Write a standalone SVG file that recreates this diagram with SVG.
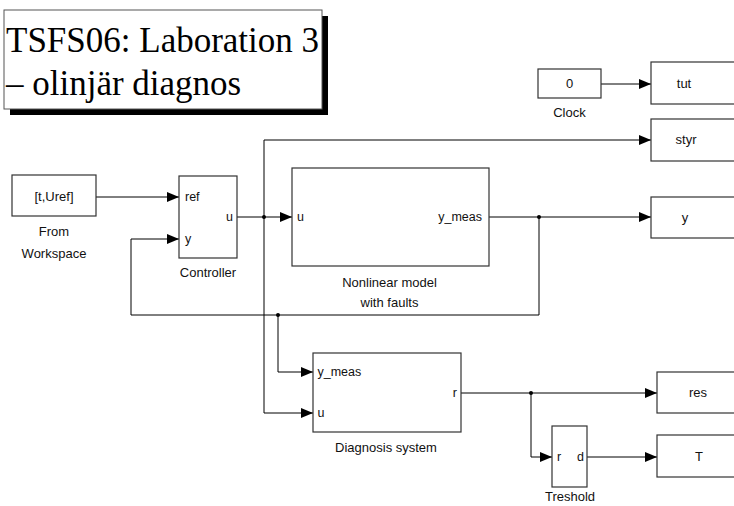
<svg xmlns="http://www.w3.org/2000/svg" width="734" height="506" viewBox="0 0 734 506">
<defs>
<marker id="arr" markerUnits="userSpaceOnUse" markerWidth="12" markerHeight="10" refX="12" refY="5" orient="auto">
<path d="M0,0 L12,5 L0,10 z" fill="#000"/>
</marker>
<style>
.blk{fill:#fff;stroke:#333;stroke-width:1.2}
.t{font-family:"Liberation Sans",Arial,sans-serif;font-size:13px;fill:#111}
.p{font-family:"Liberation Sans",Arial,sans-serif;font-size:12.5px;fill:#111}
.c{text-anchor:middle}
.e{text-anchor:end}
.w{fill:none;stroke:#000;stroke-width:1}
.dot{fill:#000}
.ttl{font-family:"Liberation Serif","Times New Roman",serif;font-size:35px;fill:#000}
</style>
</defs>
<rect width="734" height="506" fill="#fff"/>
<g id="title">
<rect x="10" y="16" width="318" height="99" fill="#000"/>
<rect x="4" y="10" width="318" height="99" fill="#fff" stroke="#555" stroke-width="1"/>
<text class="ttl" x="6" y="52">TSFS06: Laboration 3</text>
<text class="ttl" x="6" y="95">– olinjär diagnos</text>
</g>
<g id="connectors">
<path class="w" d="M96,197 H179" marker-end="url(#arr)"/>
<path class="w" d="M237,217 H292" marker-end="url(#arr)"/>
<path class="w" d="M264,217 V140 H651" marker-end="url(#arr)"/>
<path class="w" d="M264,217 V413 H313" marker-end="url(#arr)"/>
<path class="w" d="M489,217 H651" marker-end="url(#arr)"/>
<path class="w" d="M539,217 V315 H131 V239 H179" marker-end="url(#arr)"/>
<path class="w" d="M278,315 V372 H313" marker-end="url(#arr)"/>
<path class="w" d="M601,84 H651" marker-end="url(#arr)"/>
<path class="w" d="M461,393 H657" marker-end="url(#arr)"/>
<path class="w" d="M531,393 V457 H552" marker-end="url(#arr)"/>
<path class="w" d="M587,457 H657" marker-end="url(#arr)"/>
<circle class="dot" cx="264" cy="217" r="2"/>
<circle class="dot" cx="539" cy="217" r="2"/>
<circle class="dot" cx="278" cy="315" r="2"/>
<circle class="dot" cx="531" cy="393" r="2"/>
</g>
<g id="fromworkspace">
<rect class="blk" x="12" y="175" width="84" height="41"/>
<text class="t c" x="54" y="200.5">[t,Uref]</text>
<text class="t c" x="54" y="236">From</text>
<text class="t c" x="54" y="258">Workspace</text>
</g>
<g id="controller">
<rect class="blk" x="179" y="176" width="58" height="82"/>
<text class="p" x="185" y="201">ref</text>
<text class="p" x="185" y="243">y</text>
<text class="p e" x="233" y="221">u</text>
<text class="t c" x="208" y="277">Controller</text>
</g>
<g id="nonlinear">
<rect class="blk" x="292" y="168" width="197" height="98"/>
<text class="p" x="297" y="221">u</text>
<text class="p e" x="482" y="221">y_meas</text>
<text class="t c" x="389.5" y="287">Nonlinear model</text>
<text class="t c" x="389.5" y="307">with faults</text>
</g>
<g id="diagnosis">
<rect class="blk" x="313" y="353" width="148" height="79"/>
<text class="p" x="317.5" y="376">y_meas</text>
<text class="p" x="317.5" y="417">u</text>
<text class="p e" x="457" y="397">r</text>
<text class="t c" x="386" y="452">Diagnosis system</text>
</g>
<g id="treshold">
<rect class="blk" x="552" y="426" width="35" height="61"/>
<text class="p" x="557" y="461">r</text>
<text class="p e" x="584" y="461">d</text>
<text class="t c" x="570" y="501">Treshold</text>
</g>
<g id="clock">
<rect class="blk" x="538" y="69" width="63" height="29"/>
<text class="t c" x="569.5" y="88">0</text>
<text class="t c" x="569.5" y="117">Clock</text>
</g>
<g id="tut">
<rect class="blk" x="651" y="62" width="90" height="42"/>
<text class="t c" x="684" y="88">tut</text>
</g>
<g id="styr">
<rect class="blk" x="651" y="119" width="90" height="42"/>
<text class="t c" x="686" y="144">styr</text>
</g>
<g id="ysink">
<rect class="blk" x="651" y="197" width="90" height="41"/>
<text class="t c" x="685" y="222">y</text>
</g>
<g id="res">
<rect class="blk" x="657" y="372" width="90" height="41"/>
<text class="t c" x="698" y="397">res</text>
</g>
<g id="T">
<rect class="blk" x="657" y="435" width="90" height="42"/>
<text class="t c" x="699" y="461">T</text>
</g>
</svg>
